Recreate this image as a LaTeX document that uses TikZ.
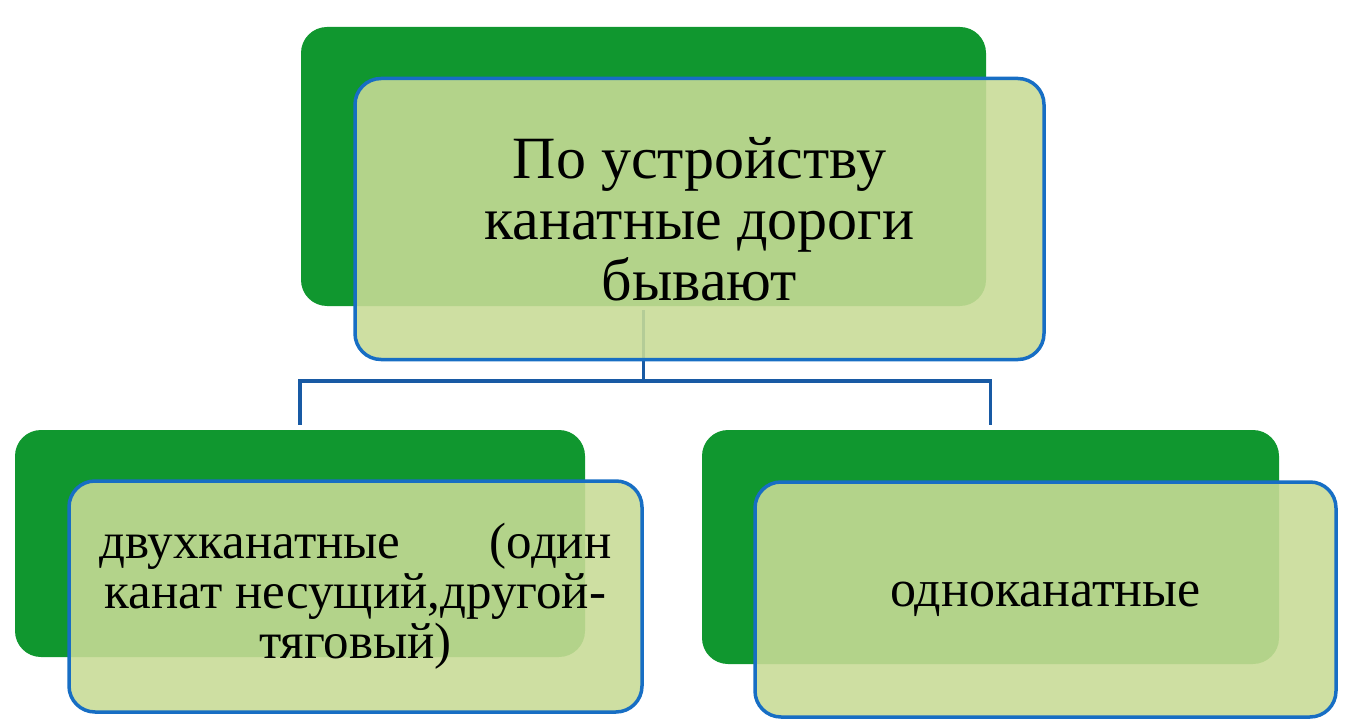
\documentclass[tikz,border=0pt]{standalone}
\usepackage{fontspec}
\setmainfont{Liberation Serif}
\definecolor{darkgr}{RGB}{16,151,47}
\definecolor{lightgr}{RGB}{200,219,150}
\definecolor{bordbl}{RGB}{23,110,196}
\definecolor{connbl}{RGB}{24,90,164}
\begin{document}
\begin{tikzpicture}[x=1pt,y=-1pt,
  darkbox/.style={rectangle, rounded corners=26pt, fill=darkgr, inner sep=0pt, outer sep=0pt},
  lightbox/.style={rectangle, rounded corners=26pt, fill=lightgr, fill opacity=0.89, text opacity=1,
    draw=bordbl, line width=3.5pt, inner sep=0pt, outer sep=0pt, align=center},
  conn/.style={draw=connbl, line width=3.5pt}]
\useasboundingbox (0,0) rectangle (1350,722);
% dark back boxes
\node[darkbox, minimum width=685pt, minimum height=279pt] (d0) at (643.5,166.5) {};
\node[darkbox, minimum width=570pt, minimum height=227pt] (d1) at (300,543.5) {};
\node[darkbox, minimum width=577pt, minimum height=234pt] (d2) at (990.5,547) {};
% connectors
\coordinate (hy) at (0,381);
\draw[conn, shorten <=4pt, shorten >=5pt] (d0.south) -- (d0.south |- hy) -| (d1.north);
\draw[conn, shorten >=5pt] (d0.south |- hy) -| (d2.north);
% light front boxes
\node[lightbox, minimum width=689pt, minimum height=281pt, font=\fontsize{60}{61}\selectfont] (l0) at (699.5,219)
  {По устройству\\канатные дороги\\бывают};
\node[lightbox, minimum width=573pt, minimum height=231pt, font=\fontsize{51}{50}\selectfont] (l1) at (355.5,596.5)
  {\makebox[512pt][s]{двухканатные\hfill(один}\\канат несущий,другой-\\тяговый)};
\node[lightbox, minimum width=581pt, minimum height=235pt, font=\fontsize{52}{50}\selectfont] (l2) at (1045.5,599.5)
  {одноканатные};
\end{tikzpicture}
\end{document}
